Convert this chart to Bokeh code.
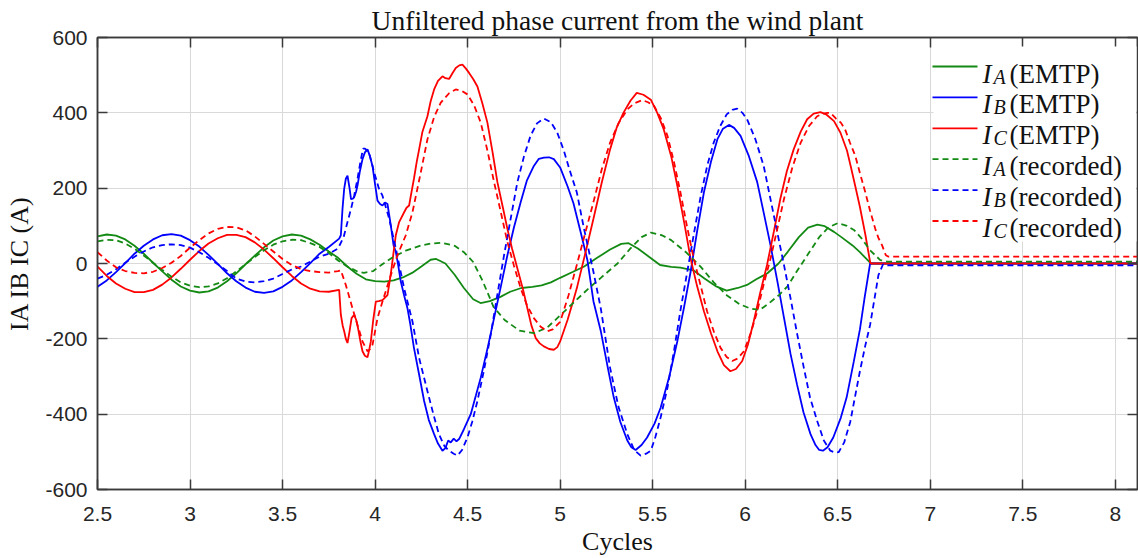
from bokeh.plotting import figure
from bokeh.models import Range1d, FixedTicker, LinearAxis, Label, Arrow, BoxAnnotation
from bokeh.embed import file_html
from bokeh.resources import INLINE

# ---------------- data ----------------
ia_emtp_x = [2.50, 2.55, 2.60, 2.65, 2.70, 2.75, 2.80, 2.85, 2.90, 2.95, 3.00, 3.05, 3.10, 3.15, 3.20, 3.25,
             3.30, 3.35, 3.40, 3.45, 3.50, 3.55, 3.60, 3.65, 3.70, 3.75, 3.80, 3.85, 3.90, 3.95, 4.00, 4.05,
             4.10, 4.15, 4.20, 4.25, 4.30, 4.33, 4.38, 4.43, 4.48, 4.53, 4.57, 4.62, 4.68, 4.73, 4.79, 4.85,
             4.90, 4.95, 5.00, 5.07, 5.13, 5.20, 5.27, 5.33, 5.37, 5.42, 5.48, 5.54, 5.60, 5.65, 5.72, 5.78,
             5.84, 5.90, 5.96, 6.01, 6.06, 6.12, 6.18, 6.23, 6.29, 6.34, 6.39, 6.43, 6.48, 6.52, 6.58, 6.62,
             6.675, 6.68, 8.12]
ia_emtp_y = [72, 77, 74, 64, 47, 26, 2, -21, -43, -61, -72, -77, -74, -64, -47, -26,
             -2, 21, 43, 61, 72, 77, 74, 64, 50, 32, 15, -8, -27, -42, -47, -48,
             -45, -37, -25, -8, 10, 12, 0, -30, -65, -95, -105, -100, -88, -75, -65, -62,
             -58, -50, -38, -22, -8, 15, 37, 52, 54, 40, 18, -4, -9, -11, -18, -40,
             -60, -72, -65, -57, -42, -26, 0, 31, 70, 95, 103, 99, 84, 70, 48, 30,
             2, 0, 0]

ib_emtp_x = [2.50, 2.55, 2.60, 2.65, 2.70, 2.75, 2.80, 2.85, 2.90, 2.95, 3.00, 3.05, 3.10, 3.15, 3.20, 3.25,
             3.30, 3.35, 3.40, 3.45, 3.50, 3.55, 3.60, 3.65, 3.70, 3.75, 3.806, 3.815, 3.824, 3.833, 3.842,
             3.851, 3.862, 3.870, 3.880, 3.887, 3.897, 3.905, 3.918, 3.932, 3.945, 3.959, 3.972, 3.986, 4.000,
             4.013, 4.027, 4.040, 4.054, 4.067, 4.076, 4.085, 4.100, 4.112, 4.125, 4.139, 4.157, 4.175, 4.190,
             4.210, 4.240, 4.265, 4.290, 4.319, 4.340, 4.364, 4.380, 4.395, 4.409, 4.425, 4.440, 4.454, 4.480,
             4.517, 4.545, 4.571, 4.610, 4.643, 4.680, 4.715, 4.750, 4.787, 4.820, 4.858, 4.885, 4.912, 4.940,
             4.966, 5.000, 5.040, 5.072, 5.110, 5.147, 5.180, 5.220, 5.255, 5.290, 5.325, 5.363, 5.385, 5.408,
             5.440, 5.470, 5.510, 5.543, 5.590, 5.633, 5.670, 5.705, 5.740, 5.777, 5.815, 5.850, 5.880, 5.912,
             5.940, 5.975, 6.020, 6.065, 6.100, 6.137, 6.175, 6.210, 6.245, 6.280, 6.315, 6.353, 6.380, 6.400,
             6.420, 6.445, 6.476, 6.517, 6.548, 6.587, 6.620, 6.645, 6.675, 8.12]
ib_emtp_y = [-62, -45, -23, 1, 26, 47, 64, 75, 78, 74, 62, 45, 23, -1, -26, -47,
             -64, -75, -78, -74, -62, -45, -23, 1, 26, 44, 66, 75, 145, 198, 225,
             233, 200, 171, 172, 176, 190, 207, 245, 277, 295, 303, 285, 259, 210,
             167, 158, 154, 162, 158, 130, 101, 48, 31, -5, -48, -85, -119, -160,
             -224, -300, -365, -415, -453, -478, -497, -490, -470, -475, -465, -472, -466, -440,
             -400, -350, -303, -220, -145, -60, 22, 95, 163, 220, 259, 278, 281, 282,
             277, 255, 205, 160, 85, 10, -100, -180, -270, -356, -420, -470, -488, -495,
             -482, -462, -425, -383, -300, -207, -115, -22, 85, 189, 270, 330, 358, 368,
             360, 339, 285, 216, 135, 48, -50, -145, -240, -321, -395, -453, -482, -495,
             -497, -488, -462, -409, -356, -260, -175, -92, 0, 0]

ic_emtp_x = [2.50, 2.55, 2.60, 2.65, 2.70, 2.75, 2.80, 2.85, 2.90, 2.95, 3.00, 3.05, 3.10, 3.15, 3.20, 3.25,
             3.30, 3.35, 3.40, 3.45, 3.50, 3.55, 3.60, 3.65, 3.70, 3.75, 3.806, 3.815, 3.825, 3.833, 3.842,
             3.851, 3.862, 3.873, 3.887, 3.898, 3.908, 3.920, 3.932, 3.945, 3.959, 3.968, 3.977, 3.990, 4.004,
             4.020, 4.040, 4.055, 4.067, 4.078, 4.089, 4.100, 4.112, 4.130, 4.157, 4.170, 4.184, 4.195, 4.210,
             4.225, 4.238, 4.256, 4.283, 4.300, 4.319, 4.340, 4.364, 4.380, 4.400, 4.418, 4.436, 4.455, 4.472,
             4.490, 4.508, 4.530, 4.553, 4.580, 4.607, 4.635, 4.661, 4.690, 4.715, 4.740, 4.769, 4.800, 4.823,
             4.845, 4.868, 4.890, 4.912, 4.940, 4.966, 4.985, 5.000, 5.040, 5.070, 5.090, 5.135, 5.180, 5.225,
             5.270, 5.305, 5.342, 5.380, 5.414, 5.450, 5.490, 5.525, 5.560, 5.600, 5.633, 5.670, 5.705, 5.740,
             5.777, 5.815, 5.850, 5.885, 5.920, 5.950, 5.984, 6.015, 6.046, 6.080, 6.118, 6.155, 6.190, 6.225,
             6.262, 6.300, 6.335, 6.370, 6.407, 6.440, 6.480, 6.515, 6.550, 6.570, 6.595, 6.620, 6.650, 6.675,
             6.68, 8.12]
ic_emtp_y = [-8, -33, -53, -67, -76, -76, -70, -56, -37, -14, 10, 33, 53, 67, 76, 76,
             70, 56, 37, 14, -10, -33, -53, -67, -74, -75, -70, -136, -165, -180, -200,
             -211, -180, -145, -136, -150, -172, -205, -233, -245, -249, -230, -207, -150, -101,
             -100, -97, -90, -84, -50, -13, 30, 75, 110, 136, 148, 154, 185, 225,
             270, 303, 350, 391, 430, 462, 485, 497, 492, 490, 505, 519, 526, 528,
             518, 506, 490, 470, 425, 374, 295, 216, 150, 92, 40, -13, -70, -119,
             -165, -198, -212, -220, -227, -229, -222, -207, -150, -100, -66, 25, 119, 215,
             303, 360, 400, 432, 453, 448, 435, 400, 356, 285, 207, 110, 13, -60,
             -127, -185, -233, -270, -286, -280, -259, -215, -154, -80, -4, 85, 172, 245,
             303, 350, 383, 398, 402, 395, 378, 347, 300, 259, 205, 150, 75, 4,
             0, 0]

ia_rec_x = [2.50, 2.55, 2.60, 2.65, 2.70, 2.75, 2.80, 2.85, 2.90, 2.95, 3.00, 3.05, 3.10, 3.15, 3.20, 3.25,
            3.30, 3.35, 3.40, 3.45, 3.50, 3.55, 3.60, 3.65, 3.70, 3.75, 3.80, 3.85, 3.90, 3.94, 3.99, 4.03,
            4.10, 4.17, 4.25, 4.30, 4.36, 4.43, 4.48, 4.53, 4.58, 4.64, 4.70, 4.78, 4.86, 4.93, 5.00, 5.07,
            5.15, 5.22, 5.31, 5.38, 5.44, 5.49, 5.55, 5.60, 5.68, 5.76, 5.83, 5.90, 5.97, 6.03, 6.08, 6.13,
            6.18, 6.23, 6.28, 6.34, 6.40, 6.45, 6.50, 6.55, 6.59, 6.63, 6.675, 6.73, 6.77, 8.12]
ia_rec_y = [59, 63, 62, 53, 39, 21, 2, -17, -35, -50, -59, -63, -61, -53, -39, -21,
            -2, 17, 35, 50, 59, 63, 62, 54, 44, 28, 8, -8, -20, -25, -20, -5,
            18, 35, 48, 53, 55, 47, 30, 4, -45, -115, -150, -178, -185, -170, -138, -105,
            -68, -38, 0, 40, 70, 82, 75, 62, 30, -9, -50, -84, -108, -120, -123, -105,
            -85, -60, -20, 25, 70, 96, 107, 100, 88, 66, 35, 9, 5, 5]

ib_rec_x = [2.50, 2.55, 2.60, 2.65, 2.70, 2.75, 2.80, 2.85, 2.90, 2.95, 3.00, 3.05, 3.10, 3.15, 3.20, 3.25,
            3.30, 3.35, 3.40, 3.45, 3.50, 3.55, 3.60, 3.65, 3.70, 3.75, 3.80, 3.83, 3.851, 3.870, 3.887,
            3.905, 3.920, 3.935, 3.945, 3.967, 3.995, 4.020, 4.040, 4.076, 4.112, 4.157, 4.202, 4.238, 4.283,
            4.315, 4.345, 4.375, 4.400, 4.425, 4.445, 4.470, 4.499, 4.525, 4.553, 4.590, 4.625, 4.660, 4.697,
            4.735, 4.769, 4.805, 4.840, 4.875, 4.912, 4.950, 4.984, 5.020, 5.050, 5.090, 5.130, 5.180, 5.220,
            5.270, 5.315, 5.363, 5.400, 5.435, 5.465, 5.490, 5.515, 5.543, 5.580, 5.615, 5.650, 5.687, 5.725,
            5.760, 5.795, 5.830, 5.865, 5.900, 5.930, 5.957, 5.985, 6.010, 6.055, 6.100, 6.135, 6.173, 6.210,
            6.245, 6.280, 6.317, 6.350, 6.389, 6.425, 6.460, 6.485, 6.505, 6.535, 6.568, 6.595, 6.620, 6.648,
            6.675, 6.700, 6.720, 6.745, 6.770, 8.12]
ib_rec_y = [-40, -30, -15, 2, 18, 32, 43, 49, 51, 49, 42, 30, 15, -2, -20, -40,
            -48, -50, -47, -40, -28, -16, -8, 5, 18, 26, 40, 70, 110, 145, 180,
            225, 268, 305, 305, 295, 242, 200, 180, 119, 40, -66, -154, -251, -339,
            -400, -453, -485, -497, -505, -510, -495, -462, -420, -365, -280, -189, -85, 22,
            125, 216, 285, 339, 372, 385, 375, 348, 300, 250, 189, 90, -22, -120,
            -277, -380, -453, -495, -510, -505, -497, -460, -409, -330, -233, -125, -22, 85,
            180, 260, 321, 365, 396, 408, 411, 400, 383, 330, 259, 175, 84, -5,
            -92, -185, -277, -355, -418, -470, -497, -502, -501, -475, -420, -350, -286, -220,
            -163, -90, -31, -2, -5, -5]

ic_rec_x = [2.50, 2.55, 2.60, 2.65, 2.70, 2.75, 2.80, 2.85, 2.90, 2.95, 3.00, 3.05, 3.10, 3.15, 3.20, 3.25,
            3.30, 3.35, 3.40, 3.45, 3.50, 3.55, 3.60, 3.65, 3.70, 3.75, 3.80, 3.815, 3.842, 3.878, 3.905,
            3.932, 3.959, 3.972, 3.986, 4.000, 4.013, 4.040, 4.060, 4.085, 4.121, 4.166, 4.202, 4.225, 4.247,
            4.283, 4.320, 4.355, 4.400, 4.436, 4.470, 4.499, 4.535, 4.571, 4.607, 4.643, 4.680, 4.715, 4.750,
            4.787, 4.820, 4.858, 4.895, 4.930, 4.960, 4.984, 5.000, 5.045, 5.090, 5.135, 5.180, 5.225, 5.270,
            5.315, 5.363, 5.400, 5.444, 5.475, 5.508, 5.545, 5.580, 5.615, 5.650, 5.685, 5.722, 5.760, 5.794,
            5.830, 5.867, 5.900, 5.930, 5.960, 5.993, 6.030, 6.065, 6.100, 6.137, 6.175, 6.210, 6.255, 6.300,
            6.345, 6.389, 6.420, 6.445, 6.460, 6.490, 6.517, 6.540, 6.567, 6.595, 6.620, 6.649, 6.675, 6.703,
            6.720, 6.740, 6.760, 6.775, 8.12]
ic_rec_y = [30, 8, -10, -20, -25, -26, -22, -12, 2, 20, 42, 62, 80, 92, 97, 96,
            88, 72, 52, 32, 12, -4, -15, -20, -23, -24, -20, -18, -57, -119, -163,
            -207, -233, -228, -216, -180, -145, -101, -70, -31, 22, 75, 136, 190, 242,
            330, 390, 427, 452, 462, 458, 449, 420, 374, 300, 216, 135, 57, -5,
            -66, -110, -145, -168, -180, -175, -163, -155, -85, -4, 80, 163, 250, 321,
            372, 409, 425, 434, 428, 418, 385, 339, 270, 189, 100, 13, -60, -127,
            -180, -224, -248, -259, -252, -233, -185, -127, -55, 13, 95, 172, 255, 321,
            365, 391, 398, 400, 400, 385, 374, 356, 320, 286, 240, 189, 140, 92,
            68, 48, 22, 18, 18]

x_ticks = [2.5, 3, 3.5, 4, 4.5, 5, 5.5, 6, 6.5, 7, 7.5, 8]
x_tick_labels = ["2.5", "3", "3.5", "4", "4.5", "5", "5.5", "6", "6.5", "7", "7.5", "8"]
y_ticks = [-600, -400, -200, 0, 200, 400, 600]
y_tick_labels = ["-600", "-400", "-200", "0", "200", "400", "600"]

title_text = "Unfiltered phase current from the wind plant"
x_label = "Cycles"
y_label = "IA IB IC (A)"
legend_phase = ["A", "B", "C", "A", "B", "C"]
legend_source = ["(EMTP)", "(EMTP)", "(EMTP)", "(recorded)", "(recorded)", "(recorded)"]

# ---------------- styling ----------------
GREEN, BLUE, RED = "#138a13", "#0000ff", "#ff0000"
AXIS_COLOR = "#3a3a3a"
SERIF = "Liberation Serif"
SANS = "Liberation Sans"

series = [
    (ia_emtp_x, ia_emtp_y, GREEN, "solid"),
    (ib_emtp_x, ib_emtp_y, BLUE, "solid"),
    (ic_emtp_x, ic_emtp_y, RED, "solid"),
    (ia_rec_x, ia_rec_y, GREEN, "6 4"),
    (ib_rec_x, ib_rec_y, BLUE, "6 4"),
    (ic_rec_x, ic_rec_y, RED, "6 4"),
]

p = figure(width=1138, height=558, output_backend="svg", toolbar_location=None,
           x_range=Range1d(2.5, 8.12), y_range=Range1d(-600, 600),
           min_border_left=97, min_border_right=1, min_border_top=37, min_border_bottom=66,
           background_fill_color="white", border_fill_color="white")

p.title.text = title_text
p.title.align = "center"
p.title.text_font = SERIF
p.title.text_font_size = "27.5px"
p.title.text_font_style = "normal"
p.title.text_color = "#111111"
p.title.standoff = 4

p.outline_line_color = AXIS_COLOR
p.outline_line_width = 1.5

def style_axis(ax, ticks, labels, show):
    ax.ticker = FixedTicker(ticks=ticks)
    ax.major_tick_in = 10
    ax.major_tick_out = 0
    ax.minor_tick_line_color = None
    ax.axis_line_color = AXIS_COLOR
    ax.axis_line_width = 1.5
    ax.major_tick_line_color = AXIS_COLOR
    ax.major_tick_line_width = 1.5
    if show:
        ax.major_label_overrides = {t: l for t, l in zip(ticks, labels)}
        ax.major_label_text_font = SANS
        ax.major_label_text_font_size = "21px"
        ax.major_label_text_color = "#262626"
        ax.major_label_standoff = 10
        ax.axis_label_text_font = SERIF
        ax.axis_label_text_font_size = "26px"
        ax.axis_label_text_font_style = "normal"
        ax.axis_label_text_color = "#111111"
    else:
        ax.major_label_overrides = {t: "" for t in ticks}
        ax.major_label_text_font_size = "0px"
        ax.major_label_standoff = 0

style_axis(p.xaxis[0], x_ticks, x_tick_labels, True)
style_axis(p.yaxis[0], y_ticks, y_tick_labels, True)
p.xaxis[0].major_label_standoff = 17
p.xaxis[0].axis_label = x_label
p.xaxis[0].axis_label_standoff = 3
p.yaxis[0].axis_label = y_label
p.yaxis[0].axis_label_standoff = 8

top_ax = LinearAxis()
style_axis(top_ax, x_ticks, x_tick_labels, False)
p.add_layout(top_ax, "above")
right_ax = LinearAxis()
style_axis(right_ax, y_ticks, y_tick_labels, False)
p.add_layout(right_ax, "right")

p.xgrid.ticker = FixedTicker(ticks=x_ticks)
p.ygrid.ticker = FixedTicker(ticks=y_ticks)
for g in (p.xgrid[0], p.ygrid[0]):
    g.grid_line_color = "#d9d9d9"
    g.grid_line_width = 1

for xs, ys, col, dash in series:
    p.line(xs, ys, line_color=col, line_width=1.8, line_dash=dash)

# ---------------- legend (screen units, relative to the frame) ----------------
p.add_layout(BoxAnnotation(left=836, right=1039, top=443, bottom=248,
                           left_units="screen", right_units="screen",
                           top_units="screen", bottom_units="screen",
                           fill_color="white", fill_alpha=1.0, line_color=None,
                           level="annotation"))
row0, row_step = 423, 30.9
for i, (xs, ys, col, dash) in enumerate(series):
    ry = row0 - i * row_step
    p.add_layout(Arrow(end=None, x_start=835, y_start=ry, x_end=880, y_end=ry,
                       start_units="screen", end_units="screen",
                       line_color=col, line_width=1.8, line_dash=dash))
    p.add_layout(Label(x=885, y=ry - 7, x_units="screen", y_units="screen", text="I",
                       text_font=SERIF, text_font_size="27px", text_font_style="italic",
                       text_color="#111111", text_baseline="alphabetic"))
    p.add_layout(Label(x=896, y=ry - 10, x_units="screen", y_units="screen", text=legend_phase[i],
                       text_font=SERIF, text_font_size="20px", text_font_style="italic",
                       text_color="#111111", text_baseline="alphabetic"))
    p.add_layout(Label(x=912, y=ry - 7, x_units="screen", y_units="screen", text=legend_source[i],
                       text_font=SERIF, text_font_size="27px",
                       text_color="#111111", text_baseline="alphabetic"))

open("out.html", "w").write(file_html(p, INLINE))
